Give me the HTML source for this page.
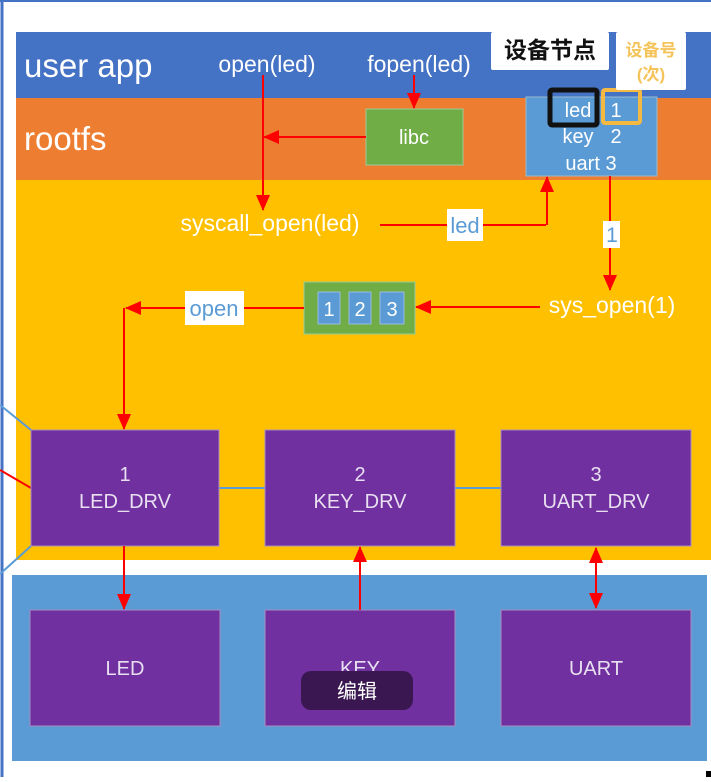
<!DOCTYPE html><html><head><meta charset="utf-8"><style>
body{margin:0;width:711px;height:777px;background:#fff;overflow:hidden;font-family:"Liberation Sans","Noto Sans CJK SC",sans-serif}
</style></head><body>
<svg width="711" height="777" xmlns="http://www.w3.org/2000/svg" font-family="Liberation Sans, Noto Sans CJK SC, sans-serif">
<defs>
<marker id="b" markerWidth="16" markerHeight="16" refX="15" refY="8" orient="auto" markerUnits="userSpaceOnUse" viewBox="0 0 16 16"><path d="M0,1L16,8L0,15z" fill="#f00"/></marker>
<marker id="s" markerWidth="16" markerHeight="16" refX="1" refY="8" orient="auto" markerUnits="userSpaceOnUse" viewBox="0 0 16 16"><path d="M16,1L0,8L16,15z" fill="#f00"/></marker></defs>
<rect x="0" y="0" width="711" height="777" fill="#fff"/>
<line x1="2" y1="0" x2="2" y2="777" stroke="#4472c4" stroke-width="3"/>
<line x1="0" y1="1" x2="711" y2="1" stroke="#4472c4" stroke-width="2"/>
<rect x="16" y="32" width="695" height="66" fill="#4472c4"/>
<rect x="16" y="98" width="695" height="82" fill="#ed7d31"/>
<rect x="16" y="180" width="695" height="380" fill="#ffc000"/>
<rect x="12" y="575" width="695" height="186" fill="#5b9bd5"/>
<text x="24" y="77" fill="#fff" font-size="33">user app</text>
<text x="24" y="150" fill="#fff" font-size="33">rootfs</text>
<text x="267" y="72" fill="#fff" font-size="23" text-anchor="middle">open(led)</text>
<text x="419" y="72" fill="#fff" font-size="23" text-anchor="middle">fopen(led)</text>
<rect x="366" y="109" width="97" height="56" fill="#70ad47" stroke="#9c9" stroke-width="1"/>
<text x="414" y="144" fill="#fff" font-size="20" text-anchor="middle">libc</text>
<rect x="526" y="97" width="131" height="79" fill="#5b9bd5" stroke="#9bc" />
<text x="578" y="117" fill="#fff" font-size="20" text-anchor="middle">led</text>
<text x="616" y="117" fill="#fff" font-size="20" text-anchor="middle">1</text>
<text x="578" y="143" fill="#fff" font-size="20" text-anchor="middle">key</text>
<text x="616" y="143" fill="#fff" font-size="20" text-anchor="middle">2</text>
<text x="591" y="170" fill="#fff" font-size="20" text-anchor="middle">uart 3</text>
<rect x="550" y="90" width="47" height="35" fill="none" stroke="#111" stroke-width="5" rx="2"/>
<rect x="603" y="90" width="37" height="33" fill="none" stroke="#f4b942" stroke-width="4" rx="2"/>
<rect x="491" y="32" width="118" height="38" fill="#fff" rx="2"/>
<text x="550" y="58" fill="#111" font-size="23" font-weight="bold" text-anchor="middle">设备节点</text>
<rect x="616" y="32" width="70" height="58" fill="#fff" rx="2"/>
<text x="651" y="56" fill="#f4c45a" font-size="17" font-weight="bold" text-anchor="middle">设备号</text>
<text x="651" y="80" fill="#f4c45a" font-size="17" font-weight="bold" text-anchor="middle">(次)</text>
<line x1="263" y1="75" x2="263" y2="210" stroke="#f00" stroke-width="2" marker-end="url(#b)"/>
<line x1="414" y1="75" x2="414" y2="108" stroke="#f00" stroke-width="2" marker-end="url(#b)"/>
<line x1="366" y1="137" x2="264" y2="137" stroke="#f00" stroke-width="2" marker-end="url(#b)"/>
<text x="270" y="231" fill="#fff" font-size="23" text-anchor="middle">syscall_open(led)</text>
<line x1="380" y1="225" x2="546" y2="225" stroke="#f00" stroke-width="2"/>
<line x1="547" y1="225" x2="547" y2="177" stroke="#f00" stroke-width="2" marker-end="url(#b)"/>
<rect x="447" y="209" width="36" height="32" fill="#fff"/>
<text x="465" y="233" fill="#5b9bd5" font-size="22" text-anchor="middle">led</text>
<line x1="610" y1="176" x2="610" y2="290" stroke="#f00" stroke-width="2" marker-end="url(#b)"/>
<rect x="603" y="221" width="17" height="27" fill="#fff"/>
<text x="612" y="242" fill="#5b9bd5" font-size="21" text-anchor="middle">1</text>
<text x="612" y="313" fill="#fff" font-size="23" text-anchor="middle">sys_open(1)</text>
<line x1="540" y1="307" x2="416" y2="307" stroke="#f00" stroke-width="2" marker-end="url(#b)"/>
<rect x="304" y="282" width="111" height="52" fill="#70ad47" stroke="#9c9"/>
<rect x="318" y="292" width="22" height="32" fill="#5b9bd5" stroke="#9bd"/>
<rect x="349" y="292" width="22" height="32" fill="#5b9bd5" stroke="#9bd"/>
<rect x="380" y="292" width="24" height="32" fill="#5b9bd5" stroke="#9bd"/>
<text x="329" y="316" fill="#fff" font-size="20" text-anchor="middle">1</text>
<text x="360" y="316" fill="#fff" font-size="20" text-anchor="middle">2</text>
<text x="392" y="316" fill="#fff" font-size="20" text-anchor="middle">3</text>
<line x1="304" y1="308" x2="126" y2="308" stroke="#f00" stroke-width="2" marker-end="url(#b)"/>
<rect x="185" y="291" width="59" height="34" fill="#fff"/>
<text x="214" y="316" fill="#5b9bd5" font-size="22" text-anchor="middle">open</text>
<line x1="124" y1="308" x2="124" y2="429" stroke="#f00" stroke-width="2" marker-end="url(#b)"/>
<line x1="219" y1="488" x2="501" y2="488" stroke="#5b9bd5" stroke-width="2"/>
<line x1="0" y1="405" x2="31" y2="430" stroke="#5b9bd5" stroke-width="2"/>
<line x1="0" y1="574" x2="31" y2="546" stroke="#5b9bd5" stroke-width="2"/>
<line x1="0" y1="470" x2="31" y2="488" stroke="#f00" stroke-width="2"/>
<g fill="#7030a0" stroke="#a98cc4" stroke-width="1">
<rect x="31" y="430" width="188" height="116"/><rect x="265" y="430" width="190" height="116"/><rect x="501" y="430" width="190" height="116"/>
<rect x="30" y="610" width="190" height="116"/><rect x="265" y="610" width="190" height="116"/><rect x="501" y="610" width="190" height="116"/></g>
<g fill="#e8e0f0" font-size="20" text-anchor="middle">
<text x="125" y="481">1</text><text x="125" y="508">LED_DRV</text>
<text x="360" y="481">2</text><text x="360" y="508">KEY_DRV</text>
<text x="596" y="481">3</text><text x="596" y="508">UART_DRV</text>
<text x="125" y="675">LED</text><text x="360" y="675">KEY</text><text x="596" y="675">UART</text></g>
<line x1="124" y1="546" x2="124" y2="609" stroke="#f00" stroke-width="2" marker-end="url(#b)"/>
<line x1="360" y1="610" x2="360" y2="547" stroke="#f00" stroke-width="2" marker-end="url(#b)"/>
<line x1="596" y1="548" x2="596" y2="608" stroke="#f00" stroke-width="2" marker-start="url(#s)" marker-end="url(#b)"/>
<rect x="301" y="671" width="112" height="39" rx="10" fill="#3a1750"/>
<text x="357" y="698" fill="#fff" font-size="20" text-anchor="middle">编辑</text>
<rect x="706" y="771" width="5" height="6" fill="#000"/>
</svg></body></html>
